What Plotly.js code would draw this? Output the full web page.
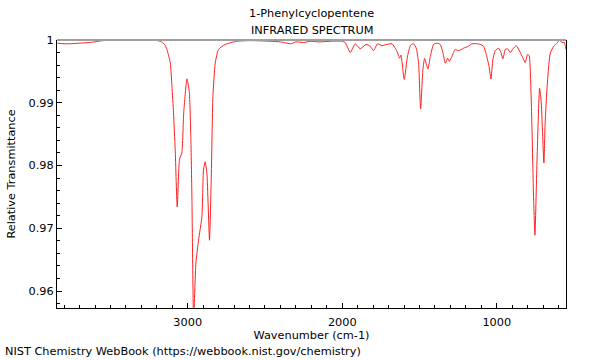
<!DOCTYPE html>
<html>
<head>
<meta charset="utf-8">
<script src="https://cdn.plot.ly/plotly-3.0.1.min.js"></script>
<style>html,body{margin:0;padding:0;background:#fff;}#chart{width:600px;height:360px;}</style>
</head>
<body>
<div id="chart"></div>
<script>
// Wavenumber (cm-1) and relative transmittance
var wavenumber = [3843,3800,3760,3700,3631,3547,3437,3307,3230,3178,3150,3135,3113,3102,3092,3081,3068,3053,3038,3026,3005,2990,2980,2973,2962,2947,2930,2908,2898,2887,2876,2859,2848,2837,2822,2801,2757,2682,2595,2466,2400,2330,2300,2250,2207,2150,2078,2000,1981,1948,1916,1884,1845,1819,1797,1772,1743,1711,1678,1646,1629,1620,1599,1577,1557,1539,1521,1506,1493,1478,1467,1452,1445,1430,1409,1387,1366,1348,1333,1318,1307,1290,1269,1247,1215,1183,1161,1128,1107,1085,1068,1050,1038,1025,1010,988,973,960,945,930,913,895,874,852,830,816,801,790,781,772,762,753,740,723,712,702,695,687,671,654,632,610,594,578,563,552];
var transmittance = [0.9995,0.9994,0.9994,0.9995,0.9996,0.9999,1.0,1.0,1.0,0.9998,0.9993,0.9985,0.9964,0.9926,0.9884,0.9825,0.9734,0.9810,0.9820,0.9884,0.9938,0.9918,0.9846,0.9751,0.9555,0.9645,0.9681,0.9719,0.9793,0.9806,0.9788,0.9681,0.9777,0.9910,0.9963,0.9985,0.9993,0.9998,0.9999,0.9998,0.9997,0.9994,0.9997,0.9996,0.9998,0.9997,0.9998,0.9998,0.9996,0.9980,0.9994,0.9986,0.9993,0.9990,0.9983,0.9994,0.9991,0.9993,0.9994,0.9982,0.9971,0.9976,0.9937,0.9975,0.9992,0.9994,0.9987,0.9963,0.9890,0.9953,0.9971,0.9958,0.9954,0.9974,0.9993,0.9995,0.9993,0.9979,0.9963,0.9971,0.9966,0.9974,0.9985,0.9983,0.9987,0.9990,0.9994,0.9994,0.9993,0.9990,0.9977,0.9958,0.9938,0.9969,0.9983,0.9987,0.9980,0.9970,0.9985,0.9986,0.9980,0.9986,0.9991,0.9982,0.9971,0.9964,0.9977,0.9975,0.9937,0.9857,0.9751,0.9689,0.9804,0.9923,0.9900,0.9841,0.9804,0.9868,0.9937,0.9979,0.9990,0.9995,1.0,0.9996,0.9996,0.9985];

var titleLines = ["1-Phenylcyclopentene", "INFRARED SPECTRUM"];
var xTitle = "Wavenumber (cm-1)";
var yTitle = "Relative Transmittance";
var footer = "NIST Chemistry WebBook (https://webbook.nist.gov/chemistry)";

var font = {family: "DejaVu Sans", size: 11.3, color: "#000"};

var trace = {
  x: wavenumber, y: transmittance, type: "scatter", mode: "lines",
  line: {color: "#ff2020", width: 1, shape: "spline", smoothing: 0.5},
  hoverinfo: "skip"
};

var layout = {
  width: 600, height: 360,
  margin: {l: 57, r: 34, t: 40, b: 52},
  paper_bgcolor: "#fff", plot_bgcolor: "#fff",
  font: font,
  showlegend: false,
  xaxis: {
    range: [3846, 552], autorange: false,
    tick0: 0, dtick: 1000, ticks: "inside", ticklen: 5, tickcolor: "#000",
    ticklabelstandoff: 3,
    showline: true, linecolor: "#000", linewidth: 1, mirror: false,
    showgrid: false, zeroline: false,
    minor: {dtick: 100, tick0: 0, ticks: "inside", ticklen: 3, tickcolor: "#000", showgrid: false},
    tickfont: font,
    title: {text: xTitle, font: font, standoff: 0}
  },
  yaxis: {
    range: [0.9573, 1.0], autorange: false,
    tick0: 0, dtick: 0.01, ticks: "inside", ticklen: 5, tickcolor: "#000",
    showline: true, linecolor: "#000", linewidth: 1, mirror: true,
    showgrid: false, zeroline: false,
    minor: {dtick: 0.002, ticks: "inside", ticklen: 3, tickcolor: "#000", showgrid: false},
    tickfont: font,
    title: {text: yTitle, font: font, standoff: 10}
  },
  shapes: [{type: "line", xref: "paper", yref: "paper", x0: 0, x1: 1, y0: 1, y1: 1, line: {color: "#a0a0a0", width: 2}}],
  annotations: [
    {text: titleLines[0], xref: "paper", yref: "paper", x: 0.5, y: 1.1007, xanchor: "center", yanchor: "middle", showarrow: false, font: font},
    {text: titleLines[1], xref: "paper", yref: "paper", x: 0.5, y: 1.0373, xanchor: "center", yanchor: "middle", showarrow: false, font: font},
    {text: footer, xref: "paper", yref: "paper", x: -0.1061, y: -0.164, xanchor: "left", yanchor: "middle", showarrow: false, font: font}
  ]
};

Plotly.newPlot("chart", [trace], layout, {staticPlot: true, displayModeBar: false});
</script>
</body>
</html>
